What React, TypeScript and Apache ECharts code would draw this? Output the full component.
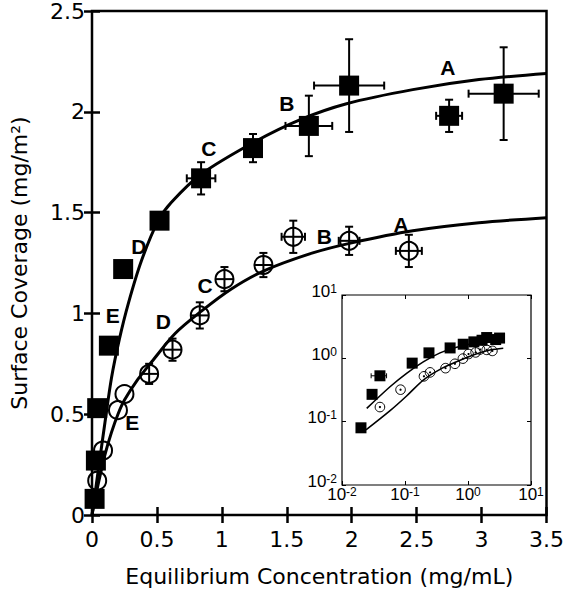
import React, { useEffect, useRef } from 'react';
import * as echarts from 'echarts';

// ---- Main plot data (filled squares) ----
const squareX = [0.02, 0.03, 0.04, 0.13, 0.24, 0.52, 0.84, 1.24, 1.67, 1.98, 2.75, 3.17];
const squareY = [0.08, 0.27, 0.53, 0.84, 1.22, 1.46, 1.67, 1.82, 1.93, 2.13, 1.98, 2.09];
const squareXErr = [0, 0, 0.011, 0, 0, 0, 0.11, 0.04, 0.18, 0.27, 0.1, 0.27];
const squareYErr = [0, 0, 0, 0, 0, 0, 0.08, 0.07, 0.15, 0.23, 0.08, 0.23];

// ---- Main plot data (open circles) ----
const circleX = [0.04, 0.085, 0.2, 0.25, 0.44, 0.62, 0.83, 1.02, 1.32, 1.55, 1.98, 2.44];
const circleY = [0.17, 0.32, 0.52, 0.6, 0.7, 0.82, 0.99, 1.17, 1.24, 1.38, 1.36, 1.31];
const circleXErr = [0, 0, 0, 0, 0.05, 0.05, 0.05, 0.07, 0.07, 0.09, 0.08, 0.1];
const circleYErr = [0, 0, 0, 0, 0.05, 0.055, 0.065, 0.06, 0.06, 0.08, 0.07, 0.08];

// ---- Fitted curves ----
const fit1X = [0, 0.02, 0.05, 0.1, 0.15, 0.21, 0.28, 0.38, 0.51, 0.61, 0.84, 1.25, 1.6, 1.96, 2.47, 2.98, 3.5];
const fit1Y = [0, 0.09, 0.23, 0.46, 0.68, 0.87, 1.05, 1.26, 1.46, 1.55, 1.69, 1.85, 1.96, 2.04, 2.11, 2.16, 2.19];
const fit2X = [0, 0.02, 0.05, 0.1, 0.15, 0.2, 0.25, 0.35, 0.46, 0.64, 0.84, 1.07, 1.32, 1.7, 2.0, 2.47, 2.98, 3.5];
const fit2Y = [0, 0.065, 0.16, 0.3, 0.41, 0.5, 0.57, 0.67, 0.76, 0.9, 1.01, 1.12, 1.21, 1.3, 1.35, 1.41, 1.45, 1.475];

// ---- Inset fitted curves (log-log) ----
const insetFit1X = [0.0247, 0.0578, 0.106, 0.195, 0.36, 0.66, 1.55, 3.6];
const insetFit1Y = [0.162, 0.356, 0.58, 0.88, 1.22, 1.5, 1.8, 2.0];
const insetFit2X = [0.024, 0.058, 0.106, 0.195, 0.36, 0.66, 1.21, 2.23, 3.63];
const insetFit2Y = [0.074, 0.149, 0.254, 0.454, 0.67, 0.88, 1.13, 1.35, 1.44];

// ---- Point labels ----
const letters = ['A', 'B', 'C', 'D', 'E'];
const squareLabelX = [2.74, 1.5, 0.9, 0.36, 0.16];
const squareLabelY = [2.22, 2.04, 1.82, 1.33, 0.99];
const circleLabelX = [2.38, 1.79, 0.87, 0.55, 0.31];
const circleLabelY = [1.44, 1.38, 1.14, 0.96, 0.46];

// ---- Tick labels ----
const xTickLabels = ['0', '0.5', '1', '1.5', '2', '2.5', '3', '3.5'];
const yTickLabels = ['0', '0.5', '1', '1.5', '2', '2.5'];
const insetExponents = ['-2', '-1', '0', '1'];

const MAIN_FONT = '"DejaVu Sans", sans-serif';
const INSET_FONT = '"Liberation Sans", Arial, sans-serif';

const zip = (xs: number[], ys: number[]) => xs.map((x, i) => [x, ys[i]]);
const zip4 = (xs: number[], ys: number[], xe: number[], ye: number[]) =>
  xs.map((x, i) => [x, ys[i], xe[i], ye[i]]);

function errorBarRender(markerHalf: number, capHalf: number, lineWidth: number, crossCircle: number, dot: number) {
  return (params: any, api: any) => {
    const x = api.value(0);
    const y = api.value(1);
    const xe = api.value(2);
    const ye = api.value(3);
    const c = api.coord([x, y]);
    const style = { stroke: '#000', lineWidth, fill: 'none' };
    const children: any[] = [];
    if (crossCircle > 0) {
      children.push({ type: 'circle', shape: { cx: c[0], cy: c[1], r: crossCircle }, style: { stroke: '#000', lineWidth, fill: 'none' } });
    }
    if (dot > 0) {
      children.push({ type: 'circle', shape: { cx: c[0], cy: c[1], r: dot }, style: { fill: '#000' } });
    }
    if (xe > 0) {
      const l = api.coord([x - xe, y]);
      const r = api.coord([x + xe, y]);
      const hl = Math.max(c[0] - l[0], crossCircle);
      const hr = Math.max(r[0] - c[0], crossCircle);
      children.push({ type: 'line', shape: { x1: c[0] - hl, y1: c[1], x2: c[0] + hr, y2: c[1] }, style });
      if (hl > markerHalf + 1) {
        children.push({ type: 'line', shape: { x1: c[0] - hl, y1: c[1] - capHalf, x2: c[0] - hl, y2: c[1] + capHalf }, style });
      }
      if (hr > markerHalf + 1) {
        children.push({ type: 'line', shape: { x1: c[0] + hr, y1: c[1] - capHalf, x2: c[0] + hr, y2: c[1] + capHalf }, style });
      }
    }
    if (ye > 0) {
      const t = api.coord([x, y + ye]);
      const b = api.coord([x, y - ye]);
      const ht = Math.max(c[1] - t[1], crossCircle);
      const hb = Math.max(b[1] - c[1], crossCircle);
      children.push({ type: 'line', shape: { x1: c[0], y1: c[1] - ht, x2: c[0], y2: c[1] + hb }, style });
      if (ht > markerHalf + 1) {
        children.push({ type: 'line', shape: { x1: c[0] - capHalf, y1: c[1] - ht, x2: c[0] + capHalf, y2: c[1] - ht }, style });
      }
      if (hb > markerHalf + 1) {
        children.push({ type: 'line', shape: { x1: c[0] - capHalf, y1: c[1] + hb, x2: c[0] + capHalf, y2: c[1] + hb }, style });
      }
    }
    return { type: 'group', children };
  };
}

function labelRender(params: any, api: any) {
  const c = api.coord([api.value(0), api.value(1)]);
  const text = letters[params.dataIndex];
  return {
    type: 'text',
    x: c[0],
    y: c[1],
    style: {
      text,
      fill: '#000',
      font: 'bold 21px "Liberation Sans", Arial, sans-serif',
      textAlign: 'center',
      textVerticalAlign: 'middle',
      align: 'center',
      verticalAlign: 'middle',
    },
  };
}

const mainTick = { show: true, inside: true, length: 8, lineStyle: { color: '#000', width: 2.5 } };
const insetTick = { show: true, inside: true, length: 4, lineStyle: { color: '#000', width: 1 } };

const insetRich = {
  b: { fontSize: 17, fontFamily: INSET_FONT, color: '#000', lineHeight: 17, verticalAlign: 'bottom' },
  e: { fontSize: 12, fontFamily: INSET_FONT, color: '#000', lineHeight: 12, verticalAlign: 'top', padding: [0, 0, 13, 0] },
};

const insetFormatter = (v: number) => {
  const idx = Math.round(Math.log10(v)) + 2;
  return '{b|10}{e|' + insetExponents[idx] + '}';
};

const option: any = {
  animation: false,
  backgroundColor: '#fff',
  grid: [
    { left: 90, top: 8, width: 459, height: 509, show: true, borderColor: '#000', borderWidth: 2.5, backgroundColor: 'transparent' },
    { left: 342, top: 295, width: 189, height: 190, show: true, borderColor: '#000', borderWidth: 1.2, backgroundColor: '#fff' },
  ],
  xAxis: [
    {
      gridIndex: 0, type: 'value', min: 0, max: 3.5, interval: 0.5,
      axisLine: { show: false }, axisTick: mainTick, splitLine: { show: false },
      axisLabel: { fontSize: 22, fontFamily: MAIN_FONT, color: '#000', margin: 13, formatter: (_v: number, i: number) => xTickLabels[i] },
      name: 'Equilibrium Concentration (mg/mL)', nameLocation: 'middle', nameGap: 50,
      nameTextStyle: { fontSize: 22, fontFamily: MAIN_FONT, color: '#000' },
    },
    {
      gridIndex: 0, type: 'value', position: 'top', min: 0, max: 3.5, interval: 0.5,
      axisLine: { show: false }, axisTick: mainTick, splitLine: { show: false }, axisLabel: { show: false },
    },
    {
      gridIndex: 1, type: 'log', logBase: 10, min: 0.01, max: 10,
      axisLine: { show: false }, axisTick: insetTick, splitLine: { show: false }, minorTick: { show: false },
      axisLabel: { show: true, margin: 1, color: '#000', formatter: insetFormatter, rich: insetRich },
    },
    {
      gridIndex: 1, type: 'log', logBase: 10, min: 0.01, max: 10, position: 'top',
      axisLine: { show: false }, axisTick: insetTick, splitLine: { show: false }, axisLabel: { show: false },
    },
  ],
  yAxis: [
    {
      gridIndex: 0, type: 'value', min: 0, max: 2.5, interval: 0.5,
      axisLine: { show: false }, axisTick: mainTick, splitLine: { show: false },
      axisLabel: { fontSize: 22, fontFamily: MAIN_FONT, color: '#000', margin: 7, formatter: (_v: number, i: number) => yTickLabels[i] },
      name: 'Surface Coverage (mg/m²)', nameLocation: 'middle', nameGap: 62,
      nameTextStyle: { fontSize: 22, fontFamily: MAIN_FONT, color: '#000' },
    },
    {
      gridIndex: 0, type: 'value', position: 'right', min: 0, max: 2.5, interval: 0.5,
      axisLine: { show: false }, axisTick: mainTick, splitLine: { show: false }, axisLabel: { show: false },
    },
    {
      gridIndex: 1, type: 'log', logBase: 10, min: 0.01, max: 10,
      axisLine: { show: false }, axisTick: insetTick, splitLine: { show: false }, minorTick: { show: false },
      axisLabel: { show: true, margin: 5, color: '#000', formatter: insetFormatter, rich: insetRich, padding: [0, 0, 8, 0] },
    },
    {
      gridIndex: 1, type: 'log', logBase: 10, min: 0.01, max: 10, position: 'right',
      axisLine: { show: false }, axisTick: insetTick, splitLine: { show: false }, axisLabel: { show: false },
    },
  ],
  series: [
    // main fits
    { type: 'line', xAxisIndex: 0, yAxisIndex: 0, data: zip(fit1X, fit1Y), showSymbol: false, smooth: 0.3, lineStyle: { color: '#000', width: 3 }, z: 2 },
    { type: 'line', xAxisIndex: 0, yAxisIndex: 0, data: zip(fit2X, fit2Y), showSymbol: false, smooth: 0.3, lineStyle: { color: '#000', width: 3 }, z: 2 },
    // main squares
    { type: 'scatter', xAxisIndex: 0, yAxisIndex: 0, data: zip(squareX, squareY), symbol: 'rect', symbolSize: 20, itemStyle: { color: '#000', opacity: 1 }, z: 3 },
    { type: 'custom', xAxisIndex: 0, yAxisIndex: 0, data: zip4(squareX, squareY, squareXErr, squareYErr), renderItem: errorBarRender(10, 4, 2, 0, 0), z: 4 },
    // main circles
    { type: 'custom', xAxisIndex: 0, yAxisIndex: 0, data: zip4(circleX, circleY, circleXErr, circleYErr), renderItem: errorBarRender(9, 4, 2, 9, 0), z: 4 },
    // labels
    { type: 'custom', xAxisIndex: 0, yAxisIndex: 0, data: zip(squareLabelX, squareLabelY), renderItem: labelRender, z: 5 },
    { type: 'custom', xAxisIndex: 0, yAxisIndex: 0, data: zip(circleLabelX, circleLabelY), renderItem: labelRender, z: 5 },
    // inset fits
    { type: 'line', xAxisIndex: 2, yAxisIndex: 2, data: zip(insetFit1X, insetFit1Y), showSymbol: false, smooth: 0.3, lineStyle: { color: '#000', width: 1.6 }, z: 6 },
    { type: 'line', xAxisIndex: 2, yAxisIndex: 2, data: zip(insetFit2X, insetFit2Y), showSymbol: false, smooth: 0.3, lineStyle: { color: '#000', width: 1.6 }, z: 6 },
    // inset squares
    { type: 'scatter', xAxisIndex: 2, yAxisIndex: 2, data: zip(squareX, squareY), symbol: 'rect', symbolSize: 11, itemStyle: { color: '#000', opacity: 1 }, z: 7 },
    { type: 'custom', xAxisIndex: 2, yAxisIndex: 2, data: zip4(squareX, squareY, squareXErr, squareYErr), renderItem: errorBarRender(5.5, 2.5, 1, 0, 0), z: 7 },
    // inset circles
    { type: 'custom', xAxisIndex: 2, yAxisIndex: 2, data: zip4(circleX, circleY, circleX.map(() => 0), circleY.map(() => 0)), renderItem: errorBarRender(5, 2, 1, 4.8, 1.1), z: 7 },
  ],
};

export default function App() {
  const ref = useRef<HTMLDivElement>(null);
  useEffect(() => {
    document.body.style.margin = '0';
    const chart = echarts.init(ref.current as HTMLDivElement, null, { renderer: 'svg' });
    chart.setOption(option);
    return () => chart.dispose();
  }, []);
  return <div ref={ref} style={{ width: 567, height: 592 }} />;
}
